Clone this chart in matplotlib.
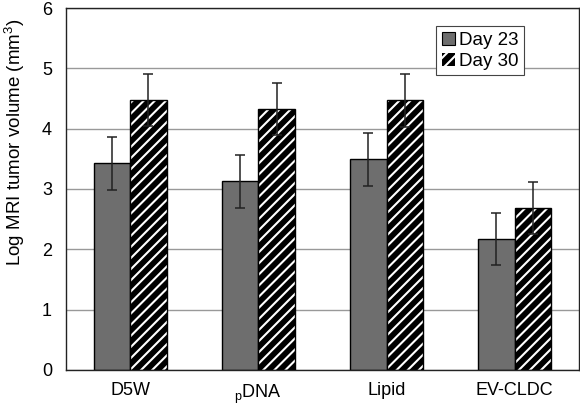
import numpy as np
import matplotlib
matplotlib.use("Agg")
import matplotlib.pyplot as plt

groups = ["D5W", r"$_\mathregular{p}$DNA", "Lipid", "EV-CLDC"]
day23 = [3.43, 3.13, 3.49, 2.17]
day23_err = [0.44, 0.44, 0.44, 0.43]
day30 = [4.48, 4.33, 4.47, 2.69]
day30_err = [0.43, 0.43, 0.44, 0.43]
yticks = [0, 1, 2, 3, 4, 5, 6]

plt.rcParams["font.family"] = ["Liberation Sans", "DejaVu Sans"]
plt.rcParams["mathtext.default"] = "regular"
plt.rcParams["hatch.linewidth"] = 1.5

fs = 13

fig = plt.figure(figsize=(5.8, 4.11), dpi=100)
ax = fig.add_axes([0.1138, 0.0998, 0.8842, 0.8807])

x = np.arange(len(groups))
w = 0.285
gray = "#6e6e6e"

ax.bar(x - w / 2, day23, w, color=gray, edgecolor="black", linewidth=1.0, zorder=2)
ax.bar(x + w / 2, day30, w, color="black", edgecolor="white", hatch="///", linewidth=0, zorder=2)
ax.bar(x + w / 2, day30, w, fill=False, edgecolor="black", linewidth=1.0, zorder=3)

ax.errorbar(x - w / 2, day23, yerr=day23_err, fmt="none", ecolor="#222222",
            elinewidth=1.1, capsize=3.5, capthick=1.1, zorder=4)
ax.errorbar(x + w / 2, day30, yerr=day30_err, fmt="none", ecolor="#222222",
            elinewidth=1.1, capsize=3.5, capthick=1.1, zorder=4)

# legend proxies
h23 = plt.Rectangle((0, 0), 1, 1, facecolor=gray, edgecolor="black", linewidth=0.8)
h30 = plt.Rectangle((0, 0), 1, 1, facecolor="black", edgecolor="white", hatch="///", linewidth=0)
leg = ax.legend([h23, h30], ["Day 23", "Day 30"], loc="upper left",
                bbox_to_anchor=(0.722, 0.95), fontsize=13.5, fancybox=False,
                framealpha=1, edgecolor="#444444", handlelength=0.7, handleheight=0.7,
                handletextpad=0.2, borderpad=0.3, labelspacing=0.2, borderaxespad=0)
leg.get_frame().set_linewidth(0.8)

ax.set_xlim(-0.5, len(groups) - 0.5)
ax.set_ylim(0, 6)
ax.set_yticks(yticks)
ax.set_xticks(x)
ax.set_xticklabels(groups, fontsize=fs)
ax.tick_params(axis="y", labelsize=fs, length=0, pad=10)
ax.tick_params(axis="x", length=0, pad=9)
ax.yaxis.grid(True, color="#999999", linewidth=1.0, zorder=0)
ax.set_axisbelow(True)
for s in ax.spines.values():
    s.set_linewidth(1.0)
    s.set_color("#222222")

ax.set_ylabel("Log MRI tumor volume (mm$^3$)", fontsize=13.5, labelpad=6)
ax.yaxis.set_label_coords(-0.076, 0.629)

fig.savefig("out.png", dpi=100)
